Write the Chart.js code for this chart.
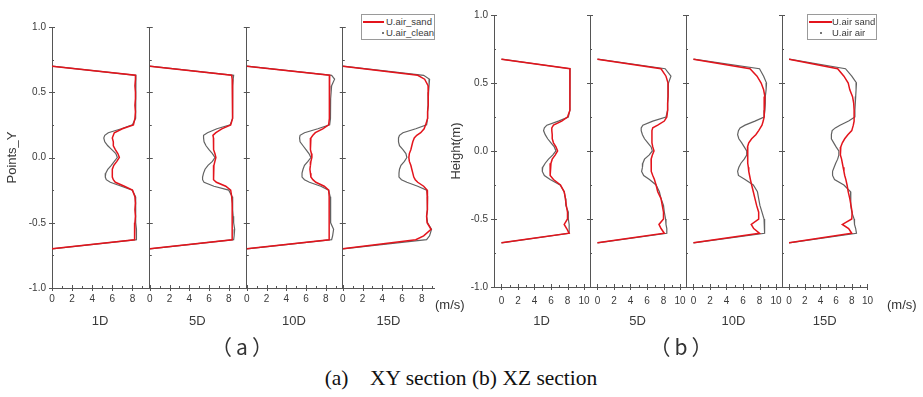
<!DOCTYPE html>
<html><head><meta charset="utf-8">
<script src="https://cdn.jsdelivr.net/npm/chart.js@4.4.1/dist/chart.umd.min.js"></script>
<style>
html,body{margin:0;padding:0;background:#fff;}
#wrap{position:relative;width:923px;height:397px;overflow:hidden;background:#fff;font-family:"Liberation Sans",Arial,sans-serif;}
#wrap canvas{position:absolute;top:0;}
.t{position:absolute;white-space:pre;color:#333;line-height:1;}
.leg{position:absolute;border:1px solid #9a9a9a;background:#fff;box-sizing:border-box;}
</style></head><body><div id="wrap"></div>
<script>
// ---------------- data ----------------
const seriesNames_a = ['U.air_sand', 'U.air_clean'];
const seriesNames_b = ['U.air sand', 'U.air air'];
const stations = ['1D', '5D', '10D', '15D'];

// panel (a) XY section: heights (Points_Y) and velocities (m/s)
const Ya = [0.70, 0.63, 0.60, 0.55, 0.50, 0.45, 0.40, 0.35, 0.30, 0.25, 0.22, 0.19, 0.17, 0.15, 0.12, 0.09, 0.06, 0.03, 0.00, -0.03, -0.06, -0.09, -0.12, -0.15, -0.17, -0.19, -0.22, -0.25, -0.30, -0.35, -0.40, -0.45, -0.50, -0.55, -0.60, -0.63, -0.70];
const a1_sand  = [0, 8.3, 8.3, 8.25, 8.3, 8.3, 8.25, 8.3, 8.25, 8.1, 7.0, 6.2, 6.1, 6.0, 6.1, 6.1, 6.3, 6.55, 6.7, 6.45, 6.15, 6.0, 6.0, 6.0, 6.1, 6.3, 7.2, 8.0, 8.25, 8.3, 8.25, 8.3, 8.25, 8.2, 8.2, 8.25, 0];
const a1_clean = [0, 8.35, 8.35, 8.3, 8.35, 8.35, 8.3, 8.3, 8.3, 8.0, 6.9, 5.6, 5.25, 5.15, 5.25, 5.55, 5.95, 6.35, 6.5, 6.2, 5.9, 5.55, 5.35, 5.3, 5.4, 5.8, 6.9, 8.0, 8.3, 8.3, 8.3, 8.35, 8.35, 8.4, 8.4, 8.4, 0];
const a2_sand  = [0, 8.3, 8.35, 8.4, 8.4, 8.4, 8.4, 8.4, 8.35, 8.2, 7.3, 6.7, 6.4, 6.45, 6.45, 6.45, 6.5, 6.6, 6.7, 6.6, 6.5, 6.45, 6.45, 6.45, 6.5, 6.75, 7.7, 8.2, 8.3, 8.35, 8.35, 8.35, 8.35, 8.35, 8.35, 8.35, 0];
const a2_clean = [0, 8.5, 8.45, 8.4, 8.4, 8.4, 8.4, 8.4, 8.35, 8.15, 6.8, 5.85, 5.45, 5.45, 5.5, 5.7, 6.0, 6.35, 6.6, 6.35, 5.9, 5.6, 5.45, 5.35, 5.35, 5.5, 6.5, 8.0, 8.35, 8.4, 8.4, 8.45, 8.5, 8.6, 8.55, 8.5, 0];
const a3_sand  = [0, 8.4, 8.4, 8.4, 8.4, 8.35, 8.35, 8.35, 8.35, 8.3, 7.7, 6.95, 6.7, 6.5, 6.45, 6.45, 6.45, 6.55, 6.6, 6.5, 6.45, 6.4, 6.45, 6.5, 6.7, 7.0, 7.85, 8.3, 8.35, 8.35, 8.35, 8.35, 8.35, 8.35, 8.35, 8.35, 0];
const a3_clean = [0, 8.6, 8.9, 8.6, 8.55, 8.5, 8.5, 8.5, 8.45, 8.4, 7.2, 5.85, 5.4, 5.35, 5.4, 5.7, 6.0, 6.3, 6.5, 6.2, 5.85, 5.7, 5.6, 5.6, 5.85, 6.35, 7.5, 8.3, 8.45, 8.5, 8.5, 8.5, 8.5, 8.8, 8.7, 8.6, 0];
const a4_sand  = [0, 7.6, 8.3, 8.65, 8.7, 8.65, 8.65, 8.6, 8.6, 8.4, 8.25, 7.9, 7.5, 7.25, 7.1, 7.0, 6.9, 6.75, 6.7, 6.75, 6.9, 7.0, 7.1, 7.2, 7.35, 7.6, 8.2, 8.55, 8.6, 8.6, 8.55, 8.5, 8.55, 8.95, 8.2, 7.4, 0];
const a4_clean = [0, 8.2, 8.8, 8.75, 8.7, 8.65, 8.65, 8.6, 8.6, 8.5, 7.4, 6.1, 5.75, 5.65, 5.65, 5.75, 6.1, 6.4, 6.5, 6.25, 5.9, 5.75, 5.7, 5.7, 5.95, 6.5, 7.6, 8.5, 8.6, 8.6, 8.55, 8.5, 8.6, 9.0, 8.8, 8.5, 0];

// panel (b) XZ section: heights (m) and velocities (m/s)
const Yb = [0.675, 0.605, 0.55, 0.50, 0.45, 0.40, 0.35, 0.30, 0.25, 0.22, 0.19, 0.17, 0.15, 0.12, 0.09, 0.06, 0.03, 0.00, -0.03, -0.06, -0.09, -0.12, -0.15, -0.18, -0.21, -0.25, -0.30, -0.35, -0.40, -0.45, -0.50, -0.54, -0.57, -0.605, -0.675];
const b1_sand  = [0, 8.3, 8.3, 8.3, 8.25, 8.3, 8.3, 8.3, 8.0, 7.3, 6.3, 6.1, 6.1, 6.15, 6.15, 6.3, 6.6, 6.8, 6.5, 6.15, 6.0, 5.9, 5.9, 5.9, 6.3, 7.15, 7.6, 7.75, 7.85, 8.0, 8.0, 7.6, 7.9, 8.2, 0];
const b1_air   = [0, 8.3, 8.3, 8.3, 8.25, 8.3, 8.3, 8.3, 8.1, 6.9, 5.5, 5.2, 5.1, 5.3, 5.6, 6.0, 6.4, 6.6, 6.2, 5.7, 5.3, 5.0, 4.95, 5.2, 5.9, 7.1, 7.6, 7.75, 7.8, 8.1, 8.1, 8.2, 8.2, 8.2, 0];
const b2_sand  = [0, 7.7, 8.3, 8.55, 8.55, 8.55, 8.5, 8.5, 8.4, 8.1, 7.3, 6.7, 6.6, 6.6, 6.6, 6.6, 6.7, 6.85, 6.65, 6.5, 6.5, 6.5, 6.55, 6.7, 6.9, 7.1, 7.3, 7.7, 7.85, 8.0, 8.0, 7.45, 7.7, 8.1, 0];
const b2_air   = [0, 8.2, 8.9, 8.6, 8.55, 8.55, 8.5, 8.5, 8.3, 6.7, 5.5, 5.3, 5.3, 5.45, 5.7, 6.1, 6.5, 6.65, 6.25, 5.7, 5.5, 5.45, 5.35, 5.6, 6.3, 7.1, 7.5, 7.7, 8.0, 8.1, 8.25, 8.3, 8.4, 8.4, 0];
const b3_sand  = [0, 6.85, 7.7, 8.2, 8.5, 8.65, 8.6, 8.55, 8.55, 8.45, 8.3, 8.1, 7.9, 7.55, 7.05, 6.7, 6.55, 6.55, 6.55, 6.6, 6.6, 6.65, 6.7, 6.8, 6.9, 7.05, 7.25, 7.45, 7.65, 7.9, 7.9, 7.0, 7.3, 8.0, 0];
const b3_air   = [0, 8.0, 8.5, 8.85, 8.8, 8.7, 8.7, 8.65, 8.55, 7.45, 6.25, 5.65, 5.45, 5.35, 5.5, 5.85, 6.15, 6.45, 6.45, 6.15, 5.75, 5.5, 5.35, 5.45, 6.25, 7.25, 7.75, 7.9, 8.05, 8.3, 8.55, 8.65, 8.65, 8.55, 0];
const b4_sand  = [0, 6.2, 7.0, 7.55, 7.75, 8.1, 8.25, 8.3, 8.3, 8.3, 8.2, 8.1, 8.0, 7.5, 7.1, 6.8, 6.6, 6.5, 6.6, 6.7, 6.8, 6.9, 7.0, 7.1, 7.25, 7.4, 7.55, 7.75, 7.9, 8.05, 8.0, 6.8, 7.6, 8.0, 0];
const b4_air   = [0, 7.2, 8.0, 8.6, 8.55, 8.5, 8.45, 8.4, 8.4, 7.6, 6.5, 5.9, 5.5, 5.4, 5.4, 5.7, 6.0, 6.35, 6.35, 6.2, 5.95, 5.75, 5.55, 5.55, 5.8, 7.0, 7.85, 7.9, 7.85, 8.0, 8.3, 8.35, 8.5, 8.6, 0];

// ---------------- layout ----------------
const H = 340;
const panels = [
  { Y: Ya, names: seriesNames_a, yTitle: 'Points_Y', top: 27, bottom: 288, xPad: 5, canvas0: 0, titlePad: 5,
    subs: [
      { L: 52,  R: 148, min: 0, max: 9.55, sand: a1_sand, other: a1_clean },
      { L: 148, R: 245, min: 0, max: 9.65, sand: a2_sand, other: a2_clean },
      { L: 245, R: 341, min: 0, max: 9.55, sand: a3_sand, other: a3_clean },
      { L: 341, R: 434, min: 0, max: 9.25, sand: a4_sand, other: a4_clean } ] },
  { Y: Yb, names: seriesNames_b, yTitle: 'Height(m)', top: 15, bottom: 287, xPad: 8, canvas0: 445, titlePad: 4,
    subs: [
      { L: 494, R: 590, min: -0.9, max: 10.6, sand: b1_sand, other: b1_air },
      { L: 590, R: 686, min: -0.9, max: 10.6, sand: b2_sand, other: b2_air },
      { L: 686, R: 782, min: -0.9, max: 10.6, sand: b3_sand, other: b3_air },
      { L: 782, R: 873, min: -0.9, max: 10.0, sand: b4_sand, other: b4_air } ] }
];

const AX = '#555';
const TXT = '#3a3a3a';
const RED = '#e3141c';
const GREY = 'rgba(70,70,70,0.85)';
const tickPlugin = {
  id: 'crossTicks',
  afterDraw(chart) {
    const { ctx, scales: { x, y }, chartArea: a } = chart;
    ctx.save();
    ctx.strokeStyle = AX; ctx.lineWidth = 1;
    ctx.beginPath();
    for (let v = Math.ceil(x.min); v <= x.max + 1e-9; v++) {
      const px = Math.round(x.getPixelForValue(v)) + 0.5;
      const major = Math.abs(v) % 2 === 0;
      ctx.moveTo(px, a.bottom + (major ? 3 : 0));
      ctx.lineTo(px, a.bottom - (major ? 3 : 2));
    }
    for (let k = -4; k <= 4; k++) {
      const py = Math.round(y.getPixelForValue(k * 0.25)) + 0.5;
      const major = k % 2 === 0;
      ctx.moveTo(a.left - (major ? 3 : 0), py);
      ctx.lineTo(a.left + (major ? 3 : 2), py);
    }
    ctx.stroke();
    ctx.restore();
  }
};

const wrap = document.getElementById('wrap');
panels.forEach((P) => {
  P.subs.forEach((S, i) => {
    const cLeft = i === 0 ? P.canvas0 : S.L - 6;
    const yW = S.L - cLeft;
    const cW = S.R - cLeft + 8;
    const cv = document.createElement('canvas');
    cv.width = cW; cv.height = H;
    cv.style.left = cLeft + 'px';
    cv.style.width = cW + 'px'; cv.style.height = H + 'px';
    wrap.appendChild(cv);
    new Chart(cv, {
      type: 'scatter',
      data: {
        datasets: [
          { label: P.names[0], data: P.Y.map((y, k) => ({ x: S.sand[k], y })), showLine: true,
            borderColor: RED, borderWidth: 1.5, pointRadius: 0, tension: 0 },
          { label: P.names[1], data: P.Y.map((y, k) => ({ x: S.other[k], y })), showLine: true,
            borderColor: GREY, borderWidth: 1.2, pointRadius: 0, tension: 0 }
        ]
      },
      options: {
        responsive: false, animation: false, devicePixelRatio: 1,
        layout: { padding: { top: P.top, right: 8, left: 0, bottom: 0 } },
        plugins: { legend: { display: false }, tooltip: { enabled: false } },
        scales: {
          x: {
            type: 'linear', min: S.min, max: S.max,
            grid: { display: false, drawTicks: false },
            border: { display: true, color: AX, width: 1 },
            ticks: { stepSize: 2, includeBounds: false, padding: P.xPad, color: TXT,
                     font: { family: 'Liberation Sans', size: 10 }, maxRotation: 0, autoSkip: false },
            title: { display: true, text: stations[i], color: TXT,
                     font: { family: 'Liberation Sans', size: 13 }, padding: { top: 0, bottom: 11 } },
            afterFit: (s) => { s.height = H - P.bottom; }
          },
          y: {
            type: 'linear', min: -1, max: 1,
            grid: { display: false, drawTicks: false },
            border: { display: true, color: AX, width: 1 },
            ticks: { display: i === 0, stepSize: 0.5, padding: 6, color: TXT,
                     font: { family: 'Liberation Sans', size: 10 },
                     callback: (v) => Number(v).toFixed(1) },
            title: { display: i === 0, text: P.yTitle, color: TXT,
                     font: { family: 'Liberation Sans', size: 13 }, padding: { top: P.titlePad, bottom: 0 } },
            afterFit: (s) => { s.width = yW; }
          }
        }
      },
      plugins: [tickPlugin]
    });
  });
});

// ---- text & legends ----
function addText(txt, x, y, css) {
  const d = document.createElement('div');
  d.className = 't'; d.textContent = txt;
  d.style.left = x + 'px'; d.style.top = y + 'px';
  Object.assign(d.style, css || {});
  wrap.appendChild(d);
  return d;
}
addText('(m/s)', 435, 298, { fontSize: '13px' });
addText('(m/s)', 887, 298, { fontSize: '13px' });
addText('（a）', 244, 346, { fontSize: '21px', fontFamily: '"Noto Sans CJK SC"', letterSpacing: '4px', transform: 'translate(-50%,-50%)' });
addText('（b）', 683, 346, { fontSize: '21px', fontFamily: '"Noto Sans CJK SC"', letterSpacing: '4px', transform: 'translate(-50%,-50%)' });
addText('(a)    XY section (b) XZ section', 461, 379, { fontSize: '21.5px', fontFamily: '"Liberation Serif"', color: '#111', transform: 'translate(-50%,-50%)' });

function addLegend(x, y, w, h, names, lineW, dotX) {
  const b = document.createElement('div');
  b.className = 'leg';
  Object.assign(b.style, { left: x + 'px', top: y + 'px', width: w + 'px', height: h + 'px' });
  wrap.appendChild(b);
  const ln = document.createElement('div');
  Object.assign(ln.style, { position: 'absolute', left: '1px', top: '6px', width: lineW + 'px', height: '1.5px', background: RED });
  b.appendChild(ln);
  const dot = document.createElement('div');
  Object.assign(dot.style, { position: 'absolute', left: (dotX - x) + 'px', top: '17px', width: '2px', height: '2px', background: '#777' });
  b.appendChild(dot);
  [0, 1].forEach((k) => {
    const t = document.createElement('div');
    t.textContent = names[k];
    Object.assign(t.style, { position: 'absolute', left: '24px', top: (1 + k * 11) + 'px', fontSize: '9.5px', color: TXT, lineHeight: '11px', whiteSpace: 'pre' });
    b.appendChild(t);
  });
}
addLegend(361, 14, 74, 26, seriesNames_a, 21, 381);
addLegend(807, 14, 70, 26, seriesNames_b, 23, 819);
</script>
</body></html>
